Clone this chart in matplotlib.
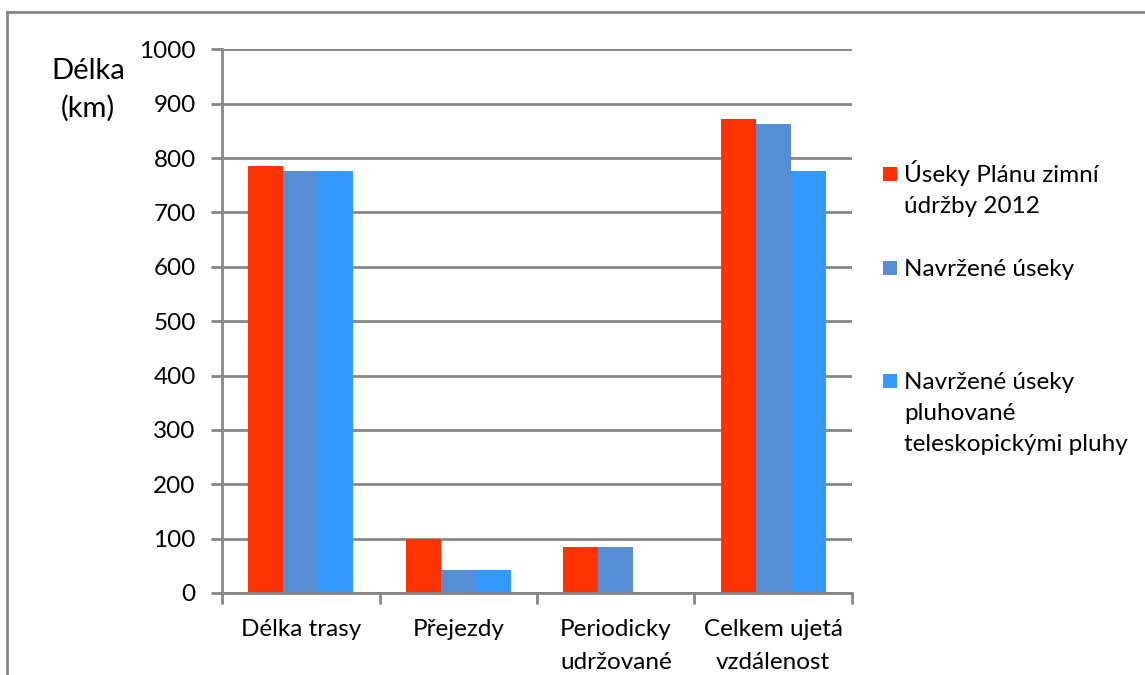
"""Grouped bar chart of winter maintenance section lengths."""

import matplotlib

matplotlib.use("Agg")
from matplotlib import pyplot as plt  # noqa: E402
from matplotlib.lines import Line2D  # noqa: E402
from matplotlib.patches import Rectangle  # noqa: E402
import numpy as np  # noqa: E402

categories = [
    "Délka trasy",
    "Přejezdy",
    "Periodicky\nudržované",
    "Celkem ujetá\nvzdálenost",
]
series_labels = [
    "Úseky Plánu zimní\núdržby 2012",
    "Navržené úseky",
    "Navržené úseky\npluhované\nteleskopickými pluhy",
]
plan_2012 = [786, 100, 85, 872]
proposed = [777, 42, 85, 863]
proposed_telescopic = [777, 42, 0, 777]
y_ticks = list(range(0, 1001, 100))

_COLORS = ["#ff3300", "#558ed5", "#3399ff"]
_AXIS_COLOR = "#868686"
_FONT = ["Lato", "DejaVu Sans"]
_FONT_SIZE = 17.5
_LINE_PX = 31
_W, _H = 1145, 675

plt.rcParams["font.family"] = _FONT


def _fx(px):
    return px / _W


def _fy(py):
    return 1 - py / _H


def _text_lines(x_px, baseline_px, text, step_px, **kwargs):
    """Write a multi-line string one line at a time from the first baseline."""
    for i, line in enumerate(text.split("\n")):
        fig.text(_fx(x_px), _fy(baseline_px + i * step_px), line,
                 va="baseline", **kwargs)


fig = plt.figure(figsize=(_W / 100, _H / 100), dpi=100, facecolor="white")
ax = fig.add_axes((0.1939, 0.1215, 0.5502, 0.8055))

x = np.arange(len(categories))
width = 0.222
bars = []
for idx, (values, color) in enumerate(
    zip([plan_2012, proposed, proposed_telescopic], _COLORS)
):
    bars.append(
        ax.bar(x + (idx - 1) * width, values, width=width, color=color,
               edgecolor="none", zorder=3)
    )

ax.set_xlim(-0.5, len(categories) - 0.5)
ax.set_ylim(0, 1000)
ax.set_yticks(y_ticks)
ax.set_xticks(x)
ax.set_xticklabels(categories, fontsize=_FONT_SIZE, linespacing=1.66)
ax.set_xticks(np.arange(len(categories) + 1) - 0.5, minor=True)
ax.tick_params(axis="x", which="major", length=0, pad=19)
ax.tick_params(axis="x", which="minor", length=8, width=2, color=_AXIS_COLOR)
ax.tick_params(axis="y", length=8, width=2, color=_AXIS_COLOR,
               labelsize=_FONT_SIZE, pad=11)
ax.grid(True, axis="y", color=_AXIS_COLOR, linewidth=2, zorder=0)
for side in ("top", "right"):
    ax.spines[side].set_visible(False)
for side in ("left", "bottom"):
    ax.spines[side].set_color(_AXIS_COLOR)
    ax.spines[side].set_linewidth(2)
    ax.spines[side].set_zorder(4)

_text_lines(88, 79, "Délka\n(km)", 38, ha="center", fontsize=21)

# legend keyed to the first line of each label
legend_rows = [182, 276, 389]
for label, color, baseline in zip(series_labels, _COLORS, legend_rows):
    fig.add_artist(Rectangle((_fx(883), _fy(baseline - 1)), _fx(14), 14 / _H,
                             facecolor=color, edgecolor="none"))
    _text_lines(904, baseline, label, _LINE_PX, ha="left", fontsize=_FONT_SIZE)

# outer chart frame, clipped by the right and bottom edges
fig.add_artist(Line2D([_fx(7), 1.0], [_fy(12)] * 2,
                      color=_AXIS_COLOR, linewidth=2))
fig.add_artist(Line2D([_fx(7)] * 2, [0.0, _fy(12)],
                      color=_AXIS_COLOR, linewidth=2))

fig.savefig("out.png", dpi=100, facecolor="white")
plt.close(fig)
